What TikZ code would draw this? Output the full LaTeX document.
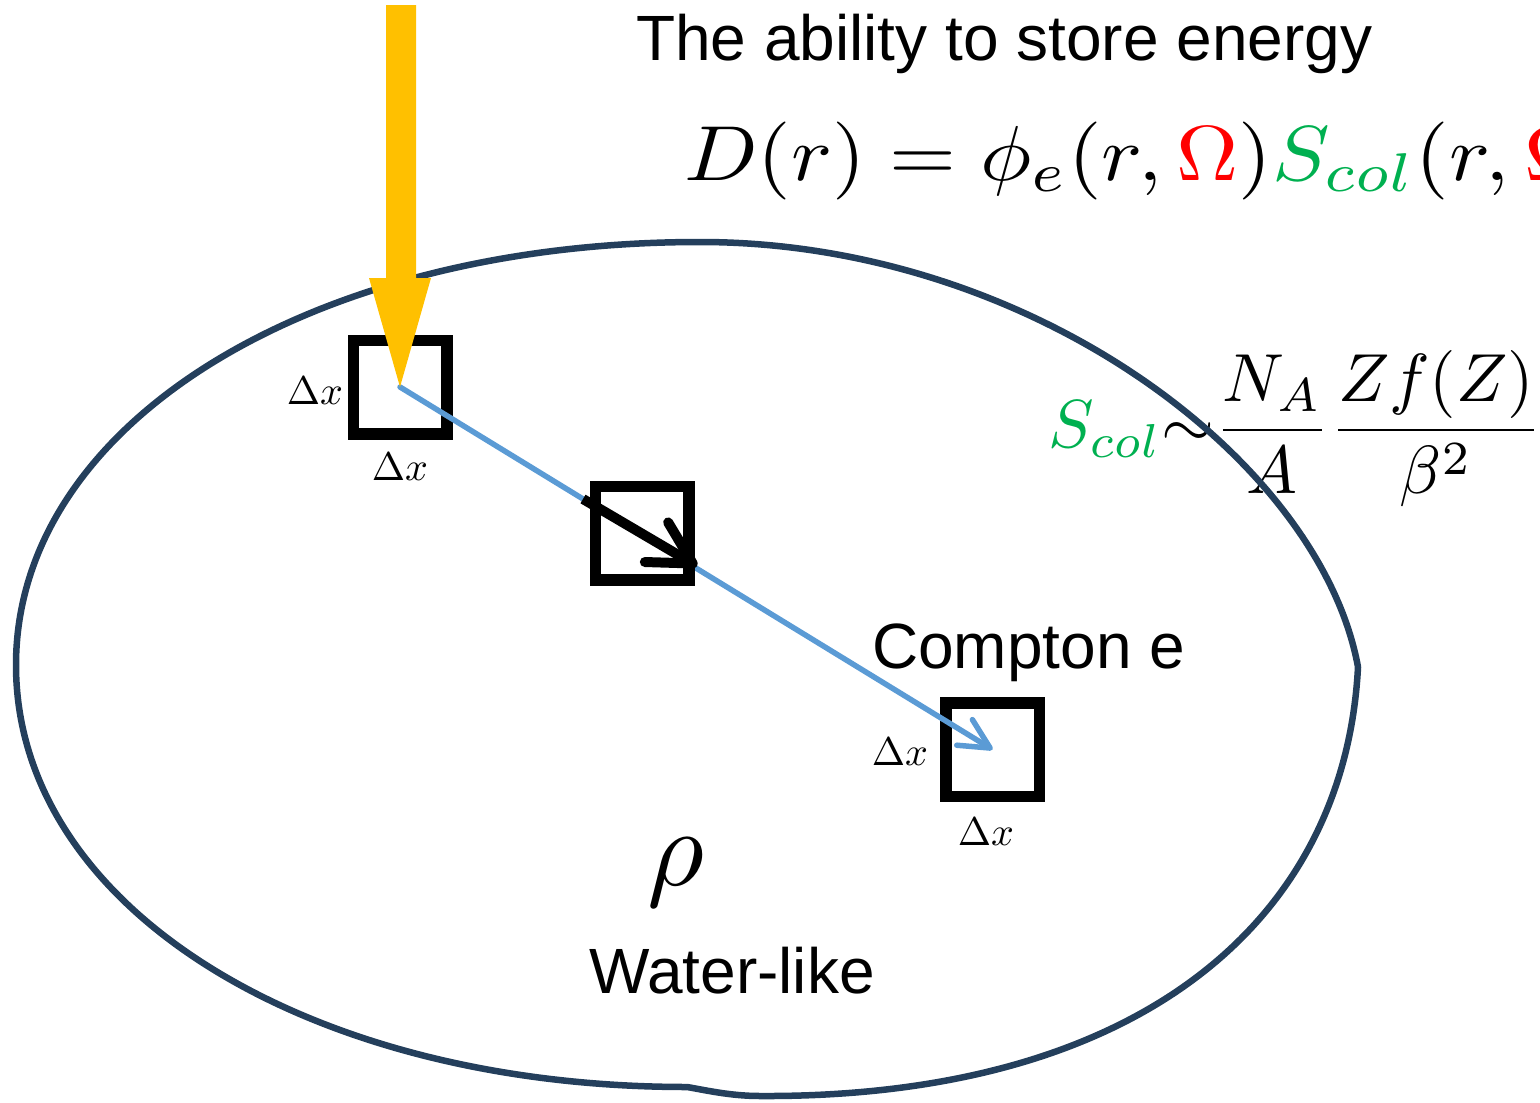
\documentclass[tikz,border=0pt]{standalone}
\usepackage[no-math]{fontspec}
\newfontfamily\arialf{Liberation Sans}
\usetikzlibrary{arrows.meta,calc}
\definecolor{navy}{HTML}{243F5C}
\definecolor{sgreen}{HTML}{00B050}
\definecolor{yel}{HTML}{FFC000}
\definecolor{lblue}{HTML}{5B9BD5}
\begin{document}
\begin{tikzpicture}[x=1pt,y=-1pt,
  txt/.style={font={\arialf\fontsize{64}{76}\selectfont}, inner sep=0pt, outer sep=0pt, anchor=base west},
  mth/.style={inner sep=0pt, outer sep=0pt},
  cell/.style={draw=black, line width=11.5pt, minimum width=93.5pt, minimum height=93.5pt, inner sep=0pt, outer sep=0pt},
  blob/.style={draw=navy, line width=6.5pt, line join=round, line cap=round},
  bluearrow/.style={draw=lblue, line width=5.5pt, line cap=round, -{Straight Barb[length=30pt,width=30pt,round]}},
  blackarrow/.style={draw=black, line width=10pt, -{Straight Barb[length=42pt,width=46pt,round]}},
  yarrow/.style={fill=yel}]
\useasboundingbox (0,0) rectangle (1540,1103);
\clip (0,0) rectangle (1540,1103);

% texts
\node[txt] (title) at (636,60) {The ability to store energy};
\node[txt] (compton) at (872,668) {Compton e};
\node[txt] (water) at (589,993) {Water-like};
\node[mth, scale=11] (rho) at (676,873) {$\rho$};
\node[mth, anchor=base west, xscale=8.6, yscale=7.8] (eq) at (684,180)
  {$D(r)=\phi_e(r,{\color{red}\Omega}){\color{sgreen}S_{col}}(r,{\color{red}\Omega})$};
\node[mth, anchor=base west, scale=6.8] (scol) at (1048,447)
  {$\displaystyle {\color{sgreen}S_{col}}{\sim}\frac{N_A}{A}\frac{Zf(Z)}{\beta^2}$};

% blob (water-like medium)
\draw[blob] (16,665) .. controls (16,424) and (310,242) .. (700,242)
  .. controls (1030,242) and (1320,460) .. (1358,667)
  .. controls (1345,920) and (1140,1098) .. (760,1096)
  .. controls (730,1096) and (705,1090) .. (687,1087)
  .. controls (305,1087) and (16,906) .. (16,665) -- cycle;

% cells
\node[cell] (b1) at (400,387) {};
\node[cell] (b3) at (992.5,749.5) {};
\node[mth, scale=4] (l1a) at (315,391) {$\Delta x$};
\node[mth, scale=4] (l1b) at (400,467) {$\Delta x$};
\node[mth, scale=4] (l3a) at (900,752) {$\Delta x$};
\node[mth, scale=4] (l3b) at (986,832) {$\Delta x$};

% electron path
\draw[bluearrow] (b1.center) -- (b3.center);
\node[cell, fill=white] (b2) at (642,533) {};
\draw[blackarrow] ($(b2.center)+(-59,-34)$) -- ($(b2.center)+(55,33)$);

% incoming photon beam
\coordinate (ysrc) at (401,5);
\fill[yarrow] ($(ysrc)+(-15,0)$) -- ($(ysrc)+(15,0)$) -- ($(b1.center)+(16,-109)$) -- ($(b1.center)+(31,-109)$) -- (b1.center) -- ($(b1.center)+(-31,-109)$) -- ($(b1.center)+(-14,-109)$) -- cycle;
\end{tikzpicture}
\end{document}
